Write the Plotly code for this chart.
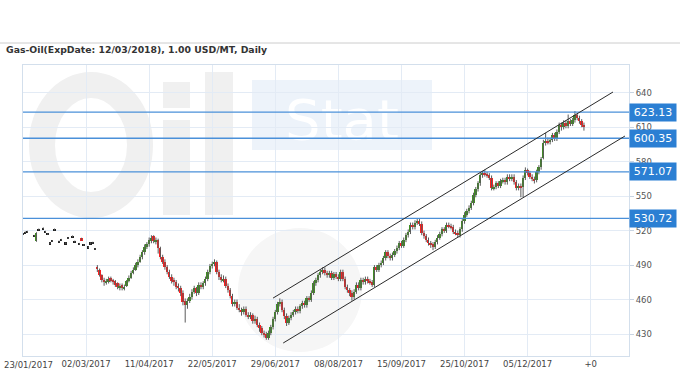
import plotly.graph_objects as go

N = None
title_text = "Gas-Oil(ExpDate: 12/03/2018), 1.00 USD/MT, Daily"
x_tick_labels = ["23/01/2017", "02/03/2017", "11/04/2017", "22/05/2017", "29/06/2017",
                 "08/08/2017", "15/09/2017", "25/10/2017", "05/12/2017", "+0"]
bars_per_tick = 28
y_ticks = [430, 460, 490, 520, 550, 580, 610, 640]
levels = [623.13, 600.35, 571.07, 530.72]
channel_upper_x = [111.0, 261.9]
channel_upper_y = [461.3, 640.6]
channel_lower_x = [115.5, 267.2]
channel_lower_y = [422.2, 602.3]

# thin early trading (bar index 0..32)
early_open = [517, 518.5, 519, N, N, 515.5, 511, 521, N, 522, 519, 517, 509, 511, 521, N, 510.5, 512, N, 509,
              513.5, N, 515, 510.5, N, 508.5, 513, 507.5, N, 505.5, 509, 509.5, 504]
early_high = [517.8, 519.3, 519.8, N, N, 516.3, 518.6, 521.8, N, 522.8, 519.8, 517.8, 509.8, 511.8, 521.8, N,
              511.3, 512.8, N, 509.8, 514.3, N, 515.8, 511.3, N, 509.3, 513.8, 508.3, N, 506.3, 509.8, 510.3, 504.8]
early_low = [516.2, 517.7, 518.2, N, N, 514.7, 510.3, 520.2, N, 521.2, 518.2, 516.2, 508.2, 510.2, 520.2, N,
             509.7, 511.2, N, 508.2, 512.7, N, 514.2, 509.7, N, 507.7, 511.3, 506.7, N, 504.7, 508.2, 508.7, 503.2]
early_close = [517, 518.5, 519, N, N, 515.5, 518, 521, N, 522, 519, 517, 509, 511, 521, N, 510.5, 512, N, 509,
               513.5, N, 515, 510.5, N, 508.5, 512, 507.5, N, 505.5, 509, 509.5, 504]

# regular daily bars (bar index 33..249)
main_open = [488, 486, 481, 477, 474, 475, 479, 477, 476, 474,
             470, 473, 469, 472, 476, 479, 483, 486, 490, 493,
             497, 501, 506, 508, 511, 515, 510, 512, 505, 497,
             493, 488, 484, 480, 477, 475, 472, 470, 466, 459,
             455, 459, 462, 467, 470, 466, 473, 471, 474, 478,
             484, 489, 491, 493, 484, 480, 477, 478, 472, 468,
             463, 456, 458, 453, 451, 449, 452, 447, 445, 447,
             441, 443, 438, 435, 431, 430, 427, 431, 436, 443,
             449, 456, 458, 451, 446, 440, 444, 447, 449, 452,
             450, 454, 457, 455, 461, 460, 466, 474, 477, 481,
             484, 486, 483, 481, 483, 479, 482, 480, 478, 484,
             478, 471, 468, 466, 462, 467, 473, 470, 477, 475,
             478, 476, 475, 473, 488, 486, 490, 492, 496, 501,
             498, 496, 499, 502, 505, 509, 507, 512, 516, 519,
             525, 523, 527, 528, 526, 518, 515, 512, 509, 508,
             506, 510, 514, 517, 521, 520, 525, 524, 523, 519,
             518, 516, 521, 528, 534, 537, 540, 544, 551, 556,
             561, 568, 570, 569, 568, 566, 557, 558, 561, 559,
             563, 564, 562, 567, 565, 567, 562, 557, 559, 558,
             566, 573, 570, 567, 565, 564, 571, 575, 583, 596,
             598, 597, 599, 603, 600, 606, 612, 610, 614, 611,
             615, 613, 616, 621, 618, 615, 612]
main_high = [490, 487, 482, 479, 478, 480, 480, 478, 477, 475,
             474, 474, 473, 477, 481, 485, 488, 492, 495, 499,
             503, 508, 510, 514, 516, 516, 514, 513, 506, 499,
             495, 490, 486, 482, 479, 477, 474, 472, 468, 461,
             461, 465, 469, 472, 471, 475, 475, 476, 480, 486,
             491, 493, 495, 494, 486, 482, 481, 480, 474, 470,
             465, 460, 460, 456, 453, 454, 454, 449, 449, 448,
             446, 445, 440, 437, 433, 432, 433, 438, 445, 451,
             458, 461, 460, 453, 448, 446, 449, 451, 454, 454,
             456, 459, 459, 463, 463, 468, 476, 479, 483, 486,
             488, 488, 485, 485, 485, 484, 484, 482, 486, 486,
             480, 473, 470, 468, 469, 475, 475, 479, 479, 480,
             480, 478, 477, 490, 490, 492, 494, 498, 503, 503,
             500, 501, 504, 507, 511, 511, 514, 518, 521, 527,
             527, 529, 530, 530, 528, 520, 517, 514, 511, 510,
             512, 516, 519, 523, 523, 527, 527, 526, 525, 521,
             520, 523, 530, 536, 539, 542, 546, 553, 558, 563,
             570, 572, 573, 571, 570, 568, 560, 563, 563, 565,
             566, 566, 569, 569, 569, 569, 564, 561, 561, 568,
             575, 574, 572, 569, 567, 573, 577, 584, 599, 605,
             601, 601, 605, 605, 608, 614, 614, 616, 616, 621,
             617, 618, 624, 622, 620, 617, 614]
main_low = [484, 480, 475, 472, 473, 474, 475, 473, 471, 469,
            468, 468, 468, 471, 475, 478, 482, 485, 488, 492,
            495, 499, 504, 506, 509, 509, 508, 500, 495, 491,
            486, 482, 478, 474, 472, 469, 467, 463, 455, 440,
            452, 457, 460, 465, 463, 464, 469, 469, 472, 476,
            482, 487, 489, 482, 477, 475, 475, 470, 466, 461,
            454, 454, 451, 449, 446, 447, 445, 443, 443, 439,
            439, 436, 432, 429, 427, 425, 425, 429, 434, 441,
            447, 454, 449, 443, 437, 438, 442, 445, 447, 448,
            448, 452, 453, 453, 458, 458, 464, 472, 475, 479,
            482, 481, 479, 479, 477, 477, 478, 476, 476, 476,
            469, 466, 463, 459, 460, 465, 468, 468, 473, 473,
            474, 473, 471, 471, 484, 484, 488, 490, 494, 496,
            494, 494, 497, 500, 503, 505, 505, 510, 514, 517,
            521, 521, 525, 524, 516, 513, 510, 507, 505, 503,
            504, 508, 512, 515, 518, 518, 522, 521, 517, 516,
            514, 514, 519, 526, 532, 535, 538, 542, 549, 554,
            559, 566, 567, 566, 564, 555, 555, 556, 557, 557,
            561, 560, 560, 563, 563, 560, 555, 555, 549, 549,
            564, 568, 565, 563, 561, 562, 569, 573, 582, 594,
            595, 595, 597, 598, 598, 604, 607, 608, 609, 609,
            611, 611, 614, 616, 613, 610, 607]
main_close = [487, 481, 477, 475, 476, 478, 476, 475, 473, 471,
              472, 470, 471, 476, 479, 483, 486, 490, 493, 497,
              501, 506, 508, 512, 514, 511, 512, 505, 497, 493,
              488, 484, 480, 476, 475, 471, 470, 466, 458, 455,
              459, 462, 467, 470, 466, 473, 471, 474, 478, 484,
              489, 491, 493, 484, 480, 477, 478, 472, 468, 463,
              456, 458, 453, 451, 449, 452, 447, 445, 447, 441,
              443, 438, 435, 431, 430, 427, 431, 436, 443, 449,
              456, 458, 451, 446, 440, 444, 447, 449, 452, 450,
              454, 457, 455, 461, 460, 466, 474, 477, 481, 484,
              486, 483, 481, 483, 479, 482, 480, 478, 484, 478,
              471, 468, 466, 462, 467, 473, 470, 477, 475, 478,
              476, 475, 473, 488, 486, 490, 492, 496, 501, 498,
              496, 499, 502, 505, 509, 507, 512, 516, 519, 525,
              523, 527, 528, 526, 518, 515, 512, 509, 508, 506,
              510, 514, 517, 521, 520, 525, 524, 523, 519, 518,
              516, 521, 528, 534, 537, 540, 544, 551, 556, 561,
              568, 570, 569, 568, 566, 557, 558, 561, 559, 563,
              564, 562, 567, 565, 567, 562, 557, 559, 558, 566,
              573, 570, 567, 565, 564, 571, 575, 582, 596, 598,
              597, 599, 603, 600, 606, 612, 610, 614, 611, 615,
              613, 616, 621, 618, 615, 612, 610]

opens = early_open + main_open
highs = early_high + main_high
lows = early_low + main_low
closes = early_close + main_close

UP, DOWN, FLAT = "#3f8f22", "#ff1f1f", "#1e1e1e"
wick_x, wick_y = [], []
body_x, body_base, body_h, body_col = [], [], [], []
for i, (o, h, l, c) in enumerate(zip(opens, highs, lows, closes)):
    if c is None:
        continue
    wick_x += [i, i, None]
    wick_y += [l, h, None]
    lo, hgt = min(o, c), abs(c - o)
    if hgt < 1.4:
        lo, hgt = (o + c) / 2 - 0.7, 1.4
    body_x.append(i)
    body_base.append(lo)
    body_h.append(hgt)
    body_col.append(UP if c > o else (DOWN if c < o else FLAT))

fig = go.Figure()
fig.add_trace(go.Scatter(x=wick_x, y=wick_y, mode="lines",
                         line=dict(color="#5a5a5a", width=1), hoverinfo="skip", showlegend=False))
fig.add_trace(go.Bar(x=body_x, y=body_h, base=body_base, width=0.85,
                     marker=dict(color=body_col, line=dict(width=0)), showlegend=False))

PW, PH, ML, MT = 606.0, 291.0, 23.0, 65.0


def px(xp):
    return (xp - ML) / PW


def py(yp):
    return (MT + PH - yp) / PH


WM = "#f0f0f0"
shapes = []
# faint watermark ("Oil" drawn as shapes, "Stat" badge, grey drop)
shapes.append(dict(type="circle", xref="paper", yref="paper", x0=px(238), x1=px(362), y0=py(352), y1=py(228),
                   fillcolor="#f6f6f6", line=dict(width=0), layer="below"))
shapes.append(dict(type="circle", xref="paper", yref="paper", x0=px(42), x1=px(140), y0=py(205), y1=py(85),
                   fillcolor="rgba(0,0,0,0)", line=dict(color=WM, width=26), layer="below"))
shapes.append(dict(type="rect", xref="paper", yref="paper", x0=px(163), x1=px(190), y0=py(215), y1=py(120),
                   fillcolor=WM, line=dict(width=0), layer="below"))
shapes.append(dict(type="rect", xref="paper", yref="paper", x0=px(163), x1=px(190), y0=py(108), y1=py(82),
                   fillcolor=WM, line=dict(width=0), layer="below"))
shapes.append(dict(type="rect", xref="paper", yref="paper", x0=px(205), x1=px(233), y0=py(215), y1=py(72),
                   fillcolor=WM, line=dict(width=0), layer="below"))
shapes.append(dict(type="rect", xref="paper", yref="paper", x0=px(252), x1=px(432), y0=py(150), y1=py(80),
                   fillcolor="#edf3fa", line=dict(width=0), layer="below",
                   label=dict(text="Stat", font=dict(size=56, color="#ffffff", family="DejaVu Sans"))))
# header rule
shapes.append(dict(type="line", xref="paper", yref="paper", x0=px(0), x1=px(680), y0=py(43), y1=py(43),
                   line=dict(color="#cccccc", width=1)))
for lv in levels:
    shapes.append(dict(type="line", xref="paper", yref="y", x0=0, x1=1, y0=lv, y1=lv,
                       line=dict(color="#4a90d9", width=1.3)))
shapes.append(dict(type="line", xref="x", yref="y", x0=channel_upper_x[0], x1=channel_upper_x[1],
                   y0=channel_upper_y[0], y1=channel_upper_y[1], line=dict(color="#2a2a2a", width=1)))
shapes.append(dict(type="line", xref="x", yref="y", x0=channel_lower_x[0], x1=channel_lower_x[1],
                   y0=channel_lower_y[0], y1=channel_lower_y[1], line=dict(color="#2a2a2a", width=1)))

tick_font = dict(family="DejaVu Sans", size=8.5, color="#444444")
annotations = [dict(x=px(4), xref="paper", xanchor="left", y=py(50), yref="paper", yanchor="middle",
                    text="<b>" + title_text + "</b>", showarrow=False,
                    font=dict(family="DejaVu Sans", size=9.3, color="#333333")),
               # first date label sits at the left edge, so it is placed flush-left
               dict(x=px(2), xref="paper", xanchor="left", y=py(365), yref="paper", yanchor="middle",
                    text=x_tick_labels[0], showarrow=False, font=tick_font)]
for lv in levels:
    annotations.append(dict(x=1, xref="paper", xanchor="left", xshift=0, y=lv, yref="y",
                            text=f"{lv:.2f}", showarrow=False, bgcolor="#2b7fd3",
                            font=dict(color="white", size=11, family="DejaVu Sans"),
                            borderpad=1, width=44, height=15))

tick_positions = [k * bars_per_tick for k in range(len(x_tick_labels))]
tick_text = [""] + x_tick_labels[1:]

fig.update_layout(
    width=680, height=380,
    margin=dict(l=23, r=51, t=65, b=24, autoexpand=False),
    paper_bgcolor="white", plot_bgcolor="white",
    bargap=0,
    shapes=shapes, annotations=annotations,
    xaxis=dict(range=[0, 269], tickvals=tick_positions, ticktext=tick_text,
               tickfont=tick_font,
               showgrid=True, gridcolor="#e3ebf5", gridwidth=1, zeroline=False,
               showline=True, linecolor="#d3dfec", mirror=True, ticks="", fixedrange=True,
               automargin=False, ticklabeloverflow="allow"),
    yaxis=dict(side="right", range=[410.9, 664.1], tickvals=y_ticks,
               tickfont=dict(family="DejaVu Sans", size=8.5, color="#555555"),
               showgrid=True, gridcolor="#e3ebf5", gridwidth=1, zeroline=False,
               showline=True, linecolor="#d3dfec", mirror=True, automargin=False,
               ticks="outside", ticklen=4, tickcolor="#c8d4e2"),
)

fig.write_html("out.html", config={"displayModeBar": False},
               post_script="document.body.style.margin='0';document.body.style.padding='0';")
